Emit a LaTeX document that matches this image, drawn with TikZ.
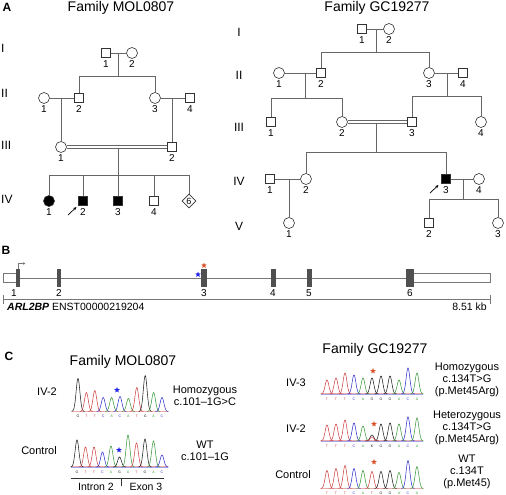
\documentclass[tikz,border=0pt]{standalone}
\usepackage{fontspec}
\setmainfont{Liberation Sans}
\usetikzlibrary{shapes.geometric,arrows.meta}
\definecolor{pedline}{HTML}{666666}
\definecolor{symline}{HTML}{333333}
\definecolor{exongray}{HTML}{505050}
\definecolor{genegray}{HTML}{777777}
\definecolor{trA}{HTML}{3C9A3C}
\definecolor{trC}{HTML}{3434D0}
\definecolor{trG}{HTML}{222222}
\definecolor{trT}{HTML}{D04444}
\definecolor{starred}{HTML}{D9532A}
\definecolor{starblue}{HTML}{2222E6}

\newcommand\pers[6]{\node[#2] (#1) at (#3,#4) {#6}; \node[num] (#1n) at (#3,#4+11.5) {#5};}
\newcommand\pk[4]{\draw[#4, line width=0.55pt] plot[domain=#1-6.5:#1+6.5, samples=27, smooth] (\x,{#2-#3*exp(-((\x-#1)^2)/7)});}
% #1 x0, #2 dx, #3 baseline, #4 list, #5 name prefix
\newcommand\trace[5]{%
  \pgfmathsetmacro\xend{#1+10*#2}
  \draw[trC!45, line width=0.25pt] (#1-6,#3-0.3) -- (\xend+6,#3-0.3);
  \draw[trT!45, line width=0.25pt] (#1-6,#3-0.8) -- (\xend+6,#3-0.8);
  \foreach \hh/\cc/\lt [count=\ii from 0] in {#4} {%
    \pgfmathsetmacro\px{#1+\ii*#2}
    \pk{\px}{#3}{\hh}{\cc}
    \node[basel, text=\cc] (#5\ii) at (\px,#3+5.2) {\lt};
  }}

\begin{document}
\begin{tikzpicture}[x=1pt,y=-1pt,
  sq/.style={draw=symline, line width=0.6pt, minimum size=9.5pt, inner sep=0pt, fill=white},
  ci/.style={circle, draw=symline, line width=0.6pt, minimum size=11pt, inner sep=0pt, fill=white},
  aff/.style={fill=black},
  dia/.style={diamond, draw=symline, line width=0.6pt, minimum size=14pt, inner sep=0pt, font=\fontsize{9}{9}\selectfont},
  num/.style={font=\fontsize{10}{10}\selectfont, inner sep=0pt},
  gen/.style={font=\fontsize{12}{12}\selectfont, inner sep=0pt},
  ttl/.style={font=\fontsize{14}{14}\selectfont, inner sep=0pt},
  panel/.style={font=\bfseries\fontsize{12}{12}\selectfont, inner sep=0pt},
  ln/.style={draw=pedline, line width=0.7pt},
  dbl/.style={draw=pedline, line width=0.6pt, double=white, double distance=2pt},
  txt/.style={font=\fontsize{11}{12}\selectfont, inner sep=0pt, align=center},
  small/.style={font=\fontsize{10.5}{12}\selectfont, inner sep=0pt},
  basel/.style={font=\fontsize{3.6}{4}\selectfont, inner sep=0pt},
  exon/.style={fill=exongray, inner sep=0pt, minimum height=18pt},
  utr/.style={draw=genegray, line width=0.7pt, fill=white},
  stared/.style={star, star points=5, star point ratio=2.3, fill=starred, inner sep=0pt, minimum size=6pt},
  starbl/.style={star, star points=5, star point ratio=2.3, fill=starblue, inner sep=0pt, minimum size=6pt},
  parr/.style={draw=black, line width=0.7pt, -{Stealth[length=3.5pt,width=3pt]}}
]
\useasboundingbox (0,0) rectangle (506,495);

% ================= Panel A =================
\node[panel] (pA) at (7,7) {A};
\node[ttl] (tA1) at (121,8) {Family MOL0807};
\node[ttl] (tA2) at (377,8) {Family GC19277};

% generation labels (left)
\node[gen, anchor=west] (gl1) at (1,48) {I};
\node[gen, anchor=west] (gl2) at (1,93) {II};
\node[gen, anchor=west] (gl3) at (1,145) {III};
\node[gen, anchor=west] (gl4) at (1,199) {IV};
% generation labels (right)
\node[gen] (gr1) at (239,32) {I};
\node[gen] (gr2) at (239,75) {II};
\node[gen] (gr3) at (239,127) {III};
\node[gen] (gr4) at (239,181) {IV};
\node[gen] (gr5) at (239,226) {V};

% ---- Family MOL0807 ----
\pers{L11}{sq}{106}{53}{1}{}
\pers{L12}{ci}{132}{53}{2}{}
\pers{L21}{ci}{44}{98}{1}{}
\pers{L22}{sq}{79}{98}{2}{}
\pers{L23}{ci}{155}{98}{3}{}
\pers{L24}{sq}{190}{98}{4}{}
\pers{L31}{ci}{61}{147}{1}{}
\pers{L32}{sq}{172}{147}{2}{}
\pers{L41}{ci,aff}{49}{201}{1}{}
\pers{L42}{sq,aff}{83}{201}{2}{}
\pers{L43}{sq,aff}{118}{201}{3}{}
\pers{L44}{sq}{154}{201}{4}{}
\node[dia] (L45) at (189,201) {6};

\draw[ln] (L11) -- (L12);
\coordinate (Lm1) at (118,53); \coordinate (Ls1) at (118,76);
\draw[ln] (Lm1) -- (Ls1);
\draw[ln] (L22.north) -- (L22.north |- Ls1) -- (L23.north |- Ls1) -- (L23.north);
\draw[ln] (L21) -- (L22);
\draw[ln] (L31.north |- L21) -- (L31.north);
\draw[ln] (L23) -- (L24);
\draw[ln] (L32.north |- L23) -- (L32.north);
\draw[dbl] (L31) -- (L32);
\coordinate (Lm3) at (118,148.5); \coordinate (Ls3) at (118,175);
\draw[ln] (Lm3) -- (Ls3);
\draw[ln] (L41.north |- Ls3) -- (L45.north |- Ls3);
\foreach \n in {L41,L42,L43,L44,L45} \draw[ln] (\n.north |- Ls3) -- (\n.north);
\coordinate (La0) at (68,215); \coordinate (La1) at (76.5,207);
\draw[parr] (La0) -- (La1);

% ---- Family GC19277 ----
\pers{R11}{sq}{362}{29}{1}{}
\pers{R12}{ci}{389}{29}{2}{}
\pers{R21}{ci}{279}{73}{1}{}
\pers{R22}{sq}{321}{73}{2}{}
\pers{R23}{ci}{429}{73}{3}{}
\pers{R24}{sq}{463}{73}{4}{}
\pers{R31}{sq}{271}{122}{1}{}
\pers{R32}{ci}{342}{122}{2}{}
\pers{R33}{sq}{412}{122}{3}{}
\pers{R34}{ci}{481}{122}{4}{}
\pers{R41}{sq}{270}{179}{1}{}
\pers{R42}{ci}{306}{179}{2}{}
\pers{R43}{sq,aff}{446}{179}{3}{}
\pers{R44}{ci}{479}{179}{4}{}
\pers{R51}{ci}{289}{223}{1}{}
\pers{R52}{sq}{429}{223}{2}{}
\pers{R53}{ci}{498}{223}{3}{}

\draw[ln] (R11) -- (R12);
\coordinate (Rm1) at (376,29); \coordinate (Rs1) at (376,52);
\draw[ln] (Rm1) -- (Rs1);
\draw[ln] (R22.north) -- (R22.north |- Rs1) -- (R23.north |- Rs1) -- (R23.north);
\draw[ln] (R21) -- (R22);
\coordinate (Rm2a) at (305,73); \coordinate (Rs2a) at (305,98);
\draw[ln] (Rm2a) -- (Rs2a);
\draw[ln] (R31.north) -- (R31.north |- Rs2a) -- (R32.north |- Rs2a) -- (R32.north);
\draw[ln] (R23) -- (R24);
\coordinate (Rm2b) at (447,73); \coordinate (Rs2b) at (447,96);
\draw[ln] (Rm2b) -- (Rs2b);
\draw[ln] (R33.north) -- (R33.north |- Rs2b) -- (R34.north |- Rs2b) -- (R34.north);
\draw[dbl] (R32) -- (R33);
\coordinate (Rm3) at (376,123.5); \coordinate (Rs3) at (376,152);
\draw[ln] (Rm3) -- (Rs3);
\draw[ln] (R42.north) -- (R42.north |- Rs3) -- (R43.north |- Rs3) -- (R43.north);
\draw[ln] (R41) -- (R42);
\draw[ln] (R51.north |- R41) -- (R51.north);
\draw[ln] (R43) -- (R44);
\coordinate (Rm4) at (463,179); \coordinate (Rs4) at (463,199);
\draw[ln] (Rm4) -- (Rs4);
\draw[ln] (R52.north) -- (R52.north |- Rs4) -- (R53.north |- Rs4) -- (R53.north);
\coordinate (Ra0) at (430,193); \coordinate (Ra1) at (438.5,185);
\draw[parr] (Ra0) -- (Ra1);

% ================= Panel B =================
\node[panel] (pB) at (6,250) {B};
\node[utr, minimum width=14pt, minimum height=9pt, inner sep=0pt] (u1) at (10,278) {};
\node[utr, minimum width=77pt, minimum height=9pt, inner sep=0pt] (u2) at (451.5,278) {};
\node[exon, minimum width=4pt] (e1) at (18,278) {};
\node[exon, minimum width=4pt] (e2) at (59,278) {};
\node[exon, minimum width=6pt] (e3) at (204,278) {};
\node[exon, minimum width=5pt] (e4) at (273.5,278) {};
\node[exon, minimum width=5pt] (e5) at (309.5,278) {};
\node[exon, minimum width=8pt] (e6) at (410,278) {};
\draw[draw=genegray, line width=0.8pt] (e1.east) -- (e2.west) (e2.east) -- (e3.west) (e3.east) -- (e4.west) (e4.east) -- (e5.west) (e5.east) -- (e6.west);
\node[num] (n1) at (14,293) {1};
\node[num] (n2) at (59,293) {2};
\node[num] (n3) at (204,293) {3};
\node[num] (n4) at (273,293) {4};
\node[num] (n5) at (309,293) {5};
\node[num] (n6) at (410,293) {6};
\coordinate (sc0) at (3,299); \coordinate (sc1) at (490,299);
\draw[genegray, line width=0.6pt] (sc0) -- (sc1);
\draw[genegray, line width=0.6pt] ([yshift=-5pt]sc0) -- ([yshift=4pt]sc0);
\draw[genegray, line width=0.6pt] ([yshift=-5pt]sc1) -- ([yshift=4pt]sc1);
\coordinate (tss0) at (18,269); \coordinate (tss1) at (25.5,263.5);
\draw[genegray, line width=0.5pt, -{Stealth[length=2.5pt,width=2.5pt,open]}] (tss0) |- (tss1);
\node[stared, minimum size=6pt] (sB1) at (204,265.5) {};
\node[starbl, minimum size=6pt] (sB2) at (198,274.5) {};
\node[small, anchor=west] (gname) at (7,307) {\textbf{\textit{ARL2BP}} ENST00000219204};
\node[small, anchor=east] (kb) at (487,307) {8.51 kb};

% ================= Panel C =================
\node[panel] (pC) at (9,356) {C};
\node[ttl] (tC1) at (123,362) {Family MOL0807};
\node[ttl] (tC2) at (375,350) {Family GC19277};

% MOL0807
\node[txt] (cL1) at (47,392) {IV-2};
\node[txt] (cL2) at (205,396) {Homozygous\\c.101–1G>C};
\node[txt] (cL3) at (39,451) {Control};
\node[txt] (cL4) at (205,451) {WT\\c.101–1G};
\trace{78}{8.4}{411.5}{33/trG/G,19/trT/T,21/trT/T,14/trC/C,14/trA/A,15/trC/C,13/trA/A,24/trT/T,36/trG/G,19/trA/A,14/trC/C}{ma}
\node[starbl] (sC1) at (117,390) {};
\trace{77}{8.5}{467}{27/trG/G,20/trT/T,20/trT/T,15/trC/C,21/trA/A,10/trG/G,32/trA/A,24/trT/T,28/trG/G,26/trA/A,12/trC/C}{mb}
\node[starbl] (sC2) at (119,450) {};
\coordinate (ib0) at (71,478); \coordinate (ib1) at (164,478); \coordinate (ibt) at (121,478);
\draw[black!80, line width=0.6pt] (ib0) -- (ib1);
\draw[black!80, line width=0.6pt] (ibt) -- ([yshift=-8pt]ibt);
\node[small] (intr) at (96,487) {Intron 2};
\node[small] (exo) at (146,487) {Exon 3};

% GC19277
\node[txt] (cR1) at (296,383) {IV-3};
\node[txt] (cR2) at (467,380) {Homozygous\\c.134T>G\\(p.Met45Arg)};
\node[txt] (cR3) at (296,429) {IV-2};
\node[txt] (cR4) at (467,427.5) {Heterozygous\\c.134T>G\\(p.Met45Arg)};
\node[txt] (cR5) at (293,475) {Control};
\node[txt] (cR6) at (467,472) {WT\\c.134T\\(p.Met45)};
\trace{327}{9}{394}{14/trT/T,16/trT/T,21/trT/T,19/trC/C,16/trA/A,16/trG/G,18/trG/G,18/trG/G,14/trA/A,26/trC/C,21/trA/A}{ga}
\node[stared] (sC3) at (373,371) {};
\trace{327}{9}{441}{16/trT/T,17/trT/T,21/trT/T,18/trC/C,15/trA/A,6/trG/K,17/trG/G,18/trG/G,17/trA/A,24/trC/C,23/trA/A}{gb}
\pk{372}{441}{4}{trT}
\node[stared] (sC4) at (374,424) {};
\trace{327}{9}{488.5}{18/trT/T,20/trT/T,23/trT/T,20/trC/C,18/trA/A,17/trT/T,17/trG/G,18/trG/G,16/trA/A,28/trC/C,22/trA/A}{gc}
\node[stared] (sC5) at (374,462) {};
\end{tikzpicture}
\end{document}
